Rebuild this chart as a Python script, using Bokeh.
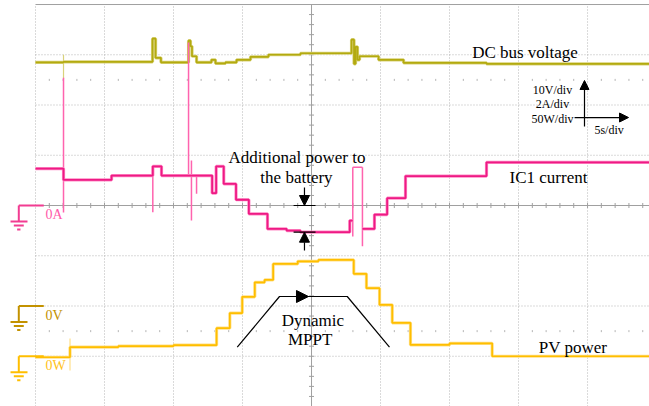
from bokeh.plotting import figure
from bokeh.models import Range1d, Label, Arrow, NormalHead
from bokeh.embed import file_html
from bokeh.resources import INLINE

# ---------------- data (time in s, 5 s/div, 0 = left graticule line) ----------------
# DC bus voltage (V), change points of the stepped trace
dc_t = [0.0, 2.03, 8.48, 8.70, 9.09, 11.09, 11.23, 11.34, 11.67, 12.75, 13.04, 13.77,
        14.57, 15.58, 16.88, 19.20, 22.90, 23.08, 23.19, 23.33, 23.48, 24.86, 26.67,
        32.68, 44.5]
dc_v = [48.5, 48.6, 53.2, 49.4, 48.5, 52.8, 51.7, 49.7, 48.5, 49.0, 48.3, 48.5,
        49.0, 49.6, 50.0, 50.3, 53.0, 48.2, 51.6, 49.0, 49.7, 49.0, 48.4,
        48.2, 48.2]
dc_spike_t = [2.03]
dc_spike_lo = [45.3]
dc_spike_hi = [50.0]

# IC1 current (A): two stepped pieces around a short pulse
ic_t1 = [0.0, 2.03, 5.51, 8.50, 9.13, 12.80, 13.09, 13.64, 14.53, 15.46, 16.81,
         18.20, 19.20, 22.77, 22.99]
ic_a1 = [1.47, 1.02, 1.19, 1.56, 1.19, 0.49, 1.56, 0.86, 0.23, -0.33, -0.93,
         -1.00, -1.06, -0.60, -0.60]
ic_t2 = [23.69, 24.56, 25.48, 26.81, 32.68, 44.5]
ic_a2 = [-0.93, -0.36, 0.29, 1.17, 1.72, 1.72]
ic_pulse_t0 = [22.99]
ic_pulse_t1 = [23.69]
ic_pulse_top = [1.52]
ic_spike_t = [2.03, 8.50, 11.09, 11.30, 11.67, 22.99, 23.69]
ic_spike_lo = [-0.28, -0.27, 1.19, -0.60, 0.47, -1.23, -1.62]
ic_spike_hi = [5.09, 1.56, 6.49, 1.79, 1.19, 1.52, 1.52]

# PV power (W)
pv_t = [0.0, 2.50, 6.0, 10.0, 13.12, 14.08, 14.98, 15.89, 16.60, 17.22, 19.0, 20.5,
        23.06, 23.98, 24.93, 25.85, 27.17, 30.0, 33.09, 44.5]
pv_w = [-1.0, 9.0, 10.0, 11.0, 27.9, 43.0, 59.1, 73.6, 76.0, 91.9, 94.5, 95.9,
        82.0, 67.7, 51.2, 33.3, 11.3, 12.9, 0.0, 0.0]
pv_spike_t = [2.50]
pv_spike_lo = [-14.2]
pv_spike_hi = [17.6]

# channel scales: units per division and position of the zero level (div)
V_PER_DIV, V_ZERO = 10, -2
A_PER_DIV, A_ZERO = 2, 0
W_PER_DIV, W_ZERO = 50, -3
S_PER_DIV = 5

# ---------------- figure ----------------
X_LO, X_HI = -2.536, 44.49
Y_LO, Y_HI = -4.0, 4.080

p = figure(width=649, height=406, x_range=Range1d(X_LO, X_HI), y_range=Range1d(Y_LO, Y_HI),
           x_axis_type=None, y_axis_type=None, output_backend="svg", toolbar_location=None,
           min_border=0, outline_line_color=None, background_fill_color="white")
p.extra_y_ranges = {
    "V": Range1d((Y_LO - V_ZERO) * V_PER_DIV, (Y_HI - V_ZERO) * V_PER_DIV),
    "A": Range1d((Y_LO - A_ZERO) * A_PER_DIV, (Y_HI - A_ZERO) * A_PER_DIV),
    "W": Range1d((Y_LO - W_ZERO) * W_PER_DIV, (Y_HI - W_ZERO) * W_PER_DIV),
}

GRID = "#b4b4b4"
AXC = "#a0a0a0"
T_END = 44.6

# dotted graticule
vx = [k * S_PER_DIV for k in range(0, 9) if k != 4]
p.segment(x0=vx, y0=[-4] * len(vx), x1=vx, y1=[4] * len(vx),
          line_color=GRID, line_width=1, line_dash="1 2")
hy = [3, 2, 1, -1, -2, -3]
p.segment(x0=[0] * len(hy), y0=hy, x1=[T_END] * len(hy), y1=hy,
          line_color=GRID, line_width=1, line_dash="1 2")
# top border and centre axes with minor ticks
p.segment(x0=[4 * S_PER_DIV, 0, 0], y0=[-4, 0, 4], x1=[4 * S_PER_DIV, T_END, T_END], y1=[4, 0, 4],
          line_color=AXC, line_width=1)
tx = [k for k in range(1, 45)]
p.segment(x0=tx, y0=[-0.05] * len(tx), x1=tx, y1=[0.05] * len(tx), line_color=AXC, line_width=1)
ty = [k * 0.2 for k in range(-19, 20) if k != 0]
p.segment(x0=[19.82] * len(ty), y0=ty, x1=[20.18] * len(ty), y1=ty, line_color=AXC, line_width=1)
for yy in (2.5, -2.5):
    txx = [k for k in range(1, 45) if k % 5 != 0]
    p.segment(x0=txx, y0=[yy - 0.02] * len(txx), x1=txx, y1=[yy + 0.02] * len(txx),
              line_color=GRID, line_width=1)

# ---------------- traces ----------------
DC, DC_L = "#b3aa0f", "#d9d27a"
IC, IC_L, IC_S = "#ee1a84", "#ff8cc6", "#ff63ae"
PV, PV_L = "#ffbe00", "#ffe08a"

p.segment(x0=dc_spike_t, y0=dc_spike_lo, x1=dc_spike_t, y1=dc_spike_hi, y_range_name="V",
          line_color=DC_L, line_width=1.2)
p.step(dc_t, dc_v, mode="after", y_range_name="V", line_color=DC_L, line_width=3.2)
p.step(dc_t, dc_v, mode="after", y_range_name="V", line_color=DC, line_width=1.7)

p.segment(x0=ic_spike_t, y0=ic_spike_lo, x1=ic_spike_t, y1=ic_spike_hi, y_range_name="A",
          line_color=IC_S, line_width=1.5)
p.segment(x0=ic_pulse_t0, y0=ic_pulse_top, x1=ic_pulse_t1, y1=ic_pulse_top, y_range_name="A",
          line_color=IC_S, line_width=1.6)
for tt, aa in ((ic_t1, ic_a1), (ic_t2, ic_a2)):
    p.step(tt, aa, mode="after", y_range_name="A", line_color=IC_L, line_width=3.2)
    p.step(tt, aa, mode="after", y_range_name="A", line_color=IC, line_width=1.8)

p.segment(x0=pv_spike_t, y0=pv_spike_lo, x1=pv_spike_t, y1=pv_spike_hi, y_range_name="W",
          line_color=PV_L, line_width=1.2)
p.step(pv_t, pv_w, mode="after", y_range_name="W", line_color=PV_L, line_width=3.2)
p.step(pv_t, pv_w, mode="after", y_range_name="W", line_color=PV, line_width=1.7)

# ---------------- ground markers ----------------
def ground(zero_div, color, txt, txt_color):
    p.segment(x0=[-1.21, -1.21], y0=[zero_div, zero_div], x1=[0.60, -1.21], y1=[zero_div, zero_div - 0.318],
              line_color=color, line_width=2)
    p.segment(x0=[-1.81, -1.57, -1.33], y0=[zero_div - 0.318, zero_div - 0.398, zero_div - 0.478],
              x1=[-0.58, -0.85, -1.09], y1=[zero_div - 0.318, zero_div - 0.398, zero_div - 0.478],
              line_color=color, line_width=2)
    p.add_layout(Label(x=0.72, y=zero_div - 0.18, text=txt, text_font="Liberation Serif",
                       text_font_size="14px", text_color=txt_color, text_align="left",
                       text_baseline="middle"))

ground(A_ZERO, "#f23c92", "0A", "#ff5aa8")
ground(V_ZERO, "#c39200", "0V", "#c39200")
ground(W_ZERO, "#ffbe00", "0W", "#ffc21a")

# ---------------- annotations ----------------
FONT = "Liberation Serif"

def lab(x, y, t, size="17px", align="center"):
    p.add_layout(Label(x=x, y=y, text=t, text_font=FONT, text_font_size=size,
                       text_color="black", text_align=align, text_baseline="middle"))

lab(35.47, 3.045, "DC bus voltage")
lab(37.46, 2.308, "10V/div", "12px")
lab(37.46, 2.023, "2A/div", "12px")
lab(37.46, 1.731, "50W/div", "12px")
lab(41.56, 1.512, "5s/div", "12px")
lab(37.17, 0.557, "IC1 current")
lab(18.95, 0.955, "Additional power to")
lab(18.91, 0.557, "the battery")
lab(20.1, -2.289, "Dynamic")
lab(19.9, -2.667, "MPPT")
lab(38.95, -2.820, "PV power")

def arrow(x0, y0, x1, y1, size):
    p.add_layout(Arrow(end=NormalHead(size=size, fill_color="black", line_color="black"),
                       x_start=x0, y_start=y0, x_end=x1, y_end=y1,
                       line_color="black", line_width=1.2))

# scale arrows
arrow(39.78, 1.572, 39.78, 2.488, 9)
arrow(39.06, 1.751, 42.97, 1.751, 9)
# additional-power arrows
arrow(19.49, 0.358, 19.49, 0.0, 10)
arrow(19.49, -0.896, 19.49, -0.531, 10)
p.segment(x0=[18.70, 18.70], y0=[0.0, -0.531], x1=[20.29, 20.29], y1=[0.0, -0.531],
          line_color="black", line_width=1.2)
# dynamic MPPT trapezoid
p.line(x=[14.62, 17.68, 22.59, 25.65], y=[-2.820, -1.811, -1.811, -2.820],
       line_color="black", line_width=1.2)
arrow(18.6, -1.811, 19.78, -1.811, 12)

open("out.html", "w").write(file_html(p, INLINE))
